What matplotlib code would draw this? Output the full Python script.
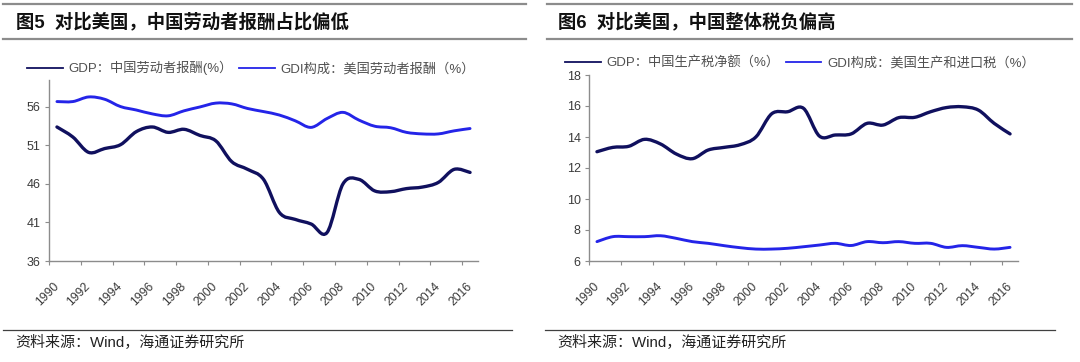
"""
plot.py - two-panel comparison: China vs US labour share and production tax share.
Writes out.png (1080x362).
"""

import matplotlib.pyplot as plt
from matplotlib.lines import Line2D
from matplotlib.patches import PathPatch
from matplotlib.path import Path

plt.rcParams["font.family"] = ["Liberation Sans", "Noto Sans CJK SC"]

YEARS = list(range(1990, 2017))

# Figure 5: labour compensation share (%)
CN_LABOR = [53.4, 52.1, 50.1, 50.6, 51.1, 52.8, 53.4, 52.7, 53.1, 52.3,
            51.6, 48.9, 47.9, 46.6, 42.3, 41.4, 40.8, 39.7, 46.0, 46.6,
            45.1, 45.0, 45.4, 45.6, 46.2, 47.9, 47.5]
US_LABOR = [56.7, 56.7, 57.3, 57.0, 56.05, 55.6, 55.1, 54.85, 55.5, 56.0,
            56.5, 56.4, 55.8, 55.4, 54.95, 54.2, 53.35, 54.5, 55.3, 54.3,
            53.5, 53.3, 52.7, 52.5, 52.5, 52.9, 53.2]

# Figure 6: production / import taxes (%)
CN_TAX = [13.05, 13.33, 13.4, 13.85, 13.55, 12.9, 12.6, 13.16, 13.33, 13.5,
          14.0, 15.5, 15.63, 15.85, 14.06, 14.13, 14.2, 14.88, 14.77, 15.25,
          15.27, 15.63, 15.9, 15.95, 15.74, 14.88, 14.2]
US_TAX = [7.25, 7.57, 7.57, 7.57, 7.63, 7.46, 7.25, 7.14, 6.99, 6.86,
          6.77, 6.77, 6.82, 6.92, 7.03, 7.14, 7.0, 7.25, 7.18, 7.25,
          7.14, 7.14, 6.88, 6.99, 6.88, 6.77, 6.88]

LABELS_5 = ["GDP：中国劳动者报酬(%）", "GDI构成：美国劳动者报酬（%）"]
LABELS_6 = ["GDP：中国生产税净额（%）", "GDI构成：美国生产和进口税（%）"]
TITLE_5 = "图5  对比美国，中国劳动者报酬占比偏低"
TITLE_6 = "图6  对比美国，中国整体税负偏高"
SOURCE = "资料来源：Wind，海通证券研究所"

NAVY = "#10105e"
BLUE = "#2424e8"
GRID_GRAY = "#8c8c8c"
TEXT = "#3a3a3a"

W, H = 1080, 362


def fx(px):
    return px / W


def fy(py):
    return 1 - py / H


def smooth_path(xs, ys):
    """Excel-style smoothed line: Catmull-Rom segments as cubic Beziers."""
    n = len(xs)
    verts = [(xs[0], ys[0])]
    codes = [Path.MOVETO]
    for i in range(n - 1):
        a = max(i - 1, 0)
        b = min(i + 2, n - 1)
        c1 = (xs[i] + (xs[i + 1] - xs[a]) / 6, ys[i] + (ys[i + 1] - ys[a]) / 6)
        c2 = (xs[i + 1] - (xs[b] - xs[i]) / 6, ys[i + 1] - (ys[b] - ys[i]) / 6)
        verts += [c1, c2, (xs[i + 1], ys[i + 1])]
        codes += [Path.CURVE4] * 3
    return Path(verts, codes)


def plot_panel(ax, series, ylim, yticks):
    idx = list(range(len(YEARS)))
    for values, color, lw in series:
        ax.add_patch(PathPatch(smooth_path(idx, values), fill=False,
                               edgecolor=color, lw=lw,
                               capstyle="round", joinstyle="round"))
    ax.set_xlim(-0.5, len(YEARS) - 0.5)
    ax.set_ylim(*ylim)
    ax.set_yticks(yticks)
    ax.set_yticklabels([str(v) for v in yticks])

    # labels at category centres, tick marks on category boundaries
    ax.set_xticks(idx[::2])
    ax.set_xticklabels([str(y) for y in YEARS[::2]], rotation=45,
                       ha="right", va="center", rotation_mode="anchor")
    ax.set_xticks([i - 0.5 for i in idx[::2]], minor=True)
    ax.tick_params(axis="x", which="major", length=0, pad=17,
                   labelsize=8.8, labelcolor=TEXT)
    ax.tick_params(axis="x", which="minor", length=3, width=0.8,
                   color=GRID_GRAY, direction="out")
    ax.tick_params(axis="y", length=3, width=0.8, color=GRID_GRAY,
                   labelsize=9, labelcolor=TEXT, pad=3)

    for side in ("top", "right"):
        ax.spines[side].set_visible(False)
    for side in ("left", "bottom"):
        ax.spines[side].set_color(GRID_GRAY)
        ax.spines[side].set_linewidth(1.0)


def add_legend(ax, labels, x_px, y_px):
    handles = [Line2D([], [], color=NAVY, lw=1.3),
               Line2D([], [], color=BLUE, lw=1.3)]
    leg = ax.legend(handles, labels, loc="center left",
                    bbox_to_anchor=(fx(x_px), fy(y_px)),
                    bbox_transform=ax.figure.transFigure,
                    ncol=2, frameon=False, fontsize=9.5,
                    handlelength=2.7, handletextpad=0.45,
                    columnspacing=0.45, borderpad=0, borderaxespad=0)
    for t in leg.get_texts():
        t.set_color("#505050")


def hline(fig, x0, x1, y, lw, color):
    fig.add_artist(Line2D([fx(x0), fx(x1)], [fy(y), fy(y)],
                          transform=fig.transFigure, color=color, lw=lw))


def main():
    fig = plt.figure(figsize=(W / 100, H / 100), dpi=100)

    # axes boxes in pixels: left, top, right, bottom
    ax5 = fig.add_axes([fx(49), fy(261), fx(478 - 49), (261 - 80) / H])
    ax6 = fig.add_axes([fx(589), fy(261), fx(1018 - 589), (261 - 75) / H])

    plot_panel(ax5, [(CN_LABOR, NAVY, 2.4), (US_LABOR, BLUE, 2.1)],
               (36, 59.5), [36, 41, 46, 51, 56])
    plot_panel(ax6, [(CN_TAX, NAVY, 2.4), (US_TAX, BLUE, 2.1)],
               (6, 18), [6, 8, 10, 12, 14, 16, 18])

    add_legend(ax5, LABELS_5, 27, 68)
    add_legend(ax6, LABELS_6, 565, 63)

    # header rules, titles, footer rules and sources
    hline(fig, 3, 526, 4, 1.6, GRID_GRAY)
    hline(fig, 3, 526, 38.5, 1.6, GRID_GRAY)
    hline(fig, 547, 1072, 4, 1.6, GRID_GRAY)
    hline(fig, 547, 1072, 38.5, 1.6, GRID_GRAY)
    hline(fig, 3, 512, 330, 0.9, "#404040")
    hline(fig, 545, 1055, 330, 0.9, "#404040")

    fig.text(fx(16), fy(22), TITLE_5, fontsize=13.2, fontweight="bold",
             color="#111111", va="center", ha="left")
    fig.text(fx(558), fy(22), TITLE_6, fontsize=13.2, fontweight="bold",
             color="#111111", va="center", ha="left")
    fig.text(fx(15), fy(343), SOURCE, fontsize=10.8, color="#222222",
             va="center", ha="left")
    fig.text(fx(557), fy(343), SOURCE, fontsize=10.8, color="#222222",
             va="center", ha="left")

    fig.savefig("out.png", dpi=100)


if __name__ == "__main__":
    main()
